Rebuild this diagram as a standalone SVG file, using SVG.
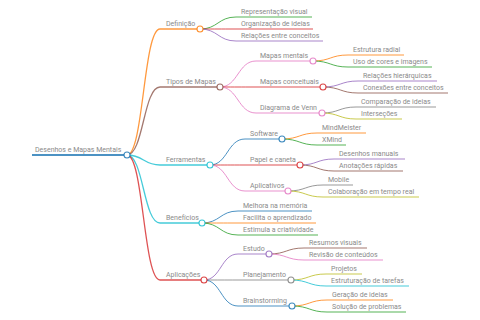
<svg xmlns="http://www.w3.org/2000/svg" width="480" height="320" viewBox="0 0 480 320">
<style>
text{font-family:Roboto,"Liberation Sans",sans-serif;font-size:7px;fill:#8a8a8a}
path,line{fill:none;stroke-opacity:0.8}
circle{fill:#fff;stroke-width:1.1;stroke-opacity:0.85}
.l0{stroke-width:1.8}
.l1{stroke-width:1.3}
.l2{stroke-width:1}
.bl{stroke:#1f77b4}.or{stroke:#ff7f0e}.gr{stroke:#2ca02c}.rd{stroke:#d62728}.pu{stroke:#9467bd}
.br{stroke:#8c564b}.pk{stroke:#e377c2}.gy{stroke:#7f7f7f}.ol{stroke:#bcbd22}.cy{stroke:#17becf}
</style>
<rect width="480" height="320" fill="#fff"/>
<g id="connectors">
<path class="l1 or" d="M127,155 C143.5,155 143.5,29 160,29"/>
<path class="l1 br" d="M127,155 C143.5,155 143.5,87 160,87"/>
<path class="l1 cy" d="M127,155 C143.5,155 143.5,165 160,165"/>
<path class="l1 cy" d="M127,155 C143.5,155 143.5,223 160,223"/>
<path class="l1 rd" d="M127,155 C143.5,155 143.5,280 160,280"/>
<path class="l2 gr" d="M200,29 C218,29 218,17 236,17"/>
<path class="l2 rd" d="M200,29 C218,29 218,29 236,29"/>
<path class="l2 pu" d="M200,29 C218,29 218,41 236,41"/>
<path class="l2 pk" d="M220,87 C238,87 238,61 256,61"/>
<path class="l2 rd" d="M220,87 C238,87 238,87 256,87"/>
<path class="l2 pk" d="M220,87 C238,87 238,113 256,113"/>
<path class="l2 or" d="M313,61 C330.5,61 330.5,55 348,55"/>
<path class="l2 gr" d="M313,61 C330.5,61 330.5,67 348,67"/>
<path class="l2 pu" d="M323,87 C340.5,87 340.5,81 358,81"/>
<path class="l2 br" d="M323,87 C340.5,87 340.5,93 358,93"/>
<path class="l2 gy" d="M322,113 C339,113 339,107 356,107"/>
<path class="l2 ol" d="M322,113 C339,113 339,119 356,119"/>
<path class="l2 bl" d="M210,165 C227.5,165 227.5,139 245,139"/>
<path class="l2 rd" d="M210,165 C227.5,165 227.5,165 245,165"/>
<path class="l2 pk" d="M210,165 C227.5,165 227.5,191 245,191"/>
<path class="l2 or" d="M282,139 C299.5,139 299.5,133 317,133"/>
<path class="l2 gr" d="M282,139 C299.5,139 299.5,145 317,145"/>
<path class="l2 pu" d="M300,165 C317,165 317,159 334,159"/>
<path class="l2 br" d="M300,165 C317,165 317,171 334,171"/>
<path class="l2 gy" d="M288,191 C305.5,191 305.5,185 323,185"/>
<path class="l2 ol" d="M288,191 C305.5,191 305.5,197 323,197"/>
<path class="l2 bl" d="M202,223 C220,223 220,211 238,211"/>
<path class="l2 or" d="M202,223 C220,223 220,223 238,223"/>
<path class="l2 gr" d="M202,223 C220,223 220,235 238,235"/>
<path class="l2 pu" d="M204,280 C221,280 221,254 238,254"/>
<path class="l2 gy" d="M204,280 C221,280 221,280 238,280"/>
<path class="l2 bl" d="M204,280 C221,280 221,306 238,306"/>
<path class="l2 br" d="M269,254 C286.5,254 286.5,248 304,248"/>
<path class="l2 pk" d="M269,254 C286.5,254 286.5,260 304,260"/>
<path class="l2 ol" d="M291,280 C308.5,280 308.5,274 326,274"/>
<path class="l2 cy" d="M291,280 C308.5,280 308.5,286 326,286"/>
<path class="l2 or" d="M292,306 C309.5,306 309.5,300 327,300"/>
<path class="l2 gr" d="M292,306 C309.5,306 309.5,312 327,312"/>
</g>
<g id="root"><line class="l0 bl" x1="32" y1="155" x2="127" y2="155"/><circle class="bl" cx="127" cy="155" r="3"/><text x="35" y="152">Desenhos e Mapas Mentais</text></g>
<g id="definicao"><line class="l1 or" x1="160" y1="29" x2="200" y2="29"/><circle class="or" cx="200" cy="29" r="3"/><text x="166" y="26">Definição</text></g>
<g id="rep-visual"><line class="l2 gr" x1="236" y1="17" x2="312" y2="17"/><text x="241" y="14">Representação visual</text></g>
<g id="org-ideias"><line class="l2 rd" x1="236" y1="29" x2="313" y2="29"/><text x="241" y="26">Organização de ideias</text></g>
<g id="rel-conceitos"><line class="l2 pu" x1="236" y1="41" x2="323" y2="41"/><text x="241" y="38">Relações entre conceitos</text></g>
<g id="tipos"><line class="l1 br" x1="160" y1="87" x2="220" y2="87"/><circle class="br" cx="220" cy="87" r="3"/><text x="166" y="84">Tipos de Mapas</text></g>
<g id="mapas-mentais"><line class="l2 pk" x1="256" y1="61" x2="313" y2="61"/><circle class="pk" cx="313" cy="61" r="3"/><text x="260" y="58">Mapas mentais</text></g>
<g id="estrutura-radial"><line class="l2 or" x1="348" y1="55" x2="404" y2="55"/><text x="353" y="52">Estrutura radial</text></g>
<g id="uso-cores"><line class="l2 gr" x1="348" y1="67" x2="432" y2="67"/><text x="353" y="64">Uso de cores e imagens</text></g>
<g id="mapas-conceituais"><line class="l2 rd" x1="256" y1="87" x2="323" y2="87"/><circle class="rd" cx="323" cy="87" r="3"/><text x="260" y="84">Mapas conceituais</text></g>
<g id="rel-hier"><line class="l2 pu" x1="358" y1="81" x2="437" y2="81"/><text x="363" y="78">Relações hierárquicas</text></g>
<g id="conexoes"><line class="l2 br" x1="358" y1="93" x2="448" y2="93"/><text x="363" y="90">Conexões entre conceitos</text></g>
<g id="venn"><line class="l2 pk" x1="256" y1="113" x2="322" y2="113"/><circle class="pk" cx="322" cy="113" r="3"/><text x="260" y="110">Diagrama de Venn</text></g>
<g id="comparacao"><line class="l2 gy" x1="356" y1="107" x2="436" y2="107"/><text x="361" y="104">Comparação de ideias</text></g>
<g id="intersecoes"><line class="l2 ol" x1="356" y1="119" x2="402" y2="119"/><text x="361" y="116">Interseções</text></g>
<g id="ferramentas"><line class="l1 cy" x1="160" y1="165" x2="210" y2="165"/><circle class="cy" cx="210" cy="165" r="3"/><text x="166" y="162">Ferramentas</text></g>
<g id="software"><line class="l2 bl" x1="245" y1="139" x2="282" y2="139"/><circle class="bl" cx="282" cy="139" r="3"/><text x="250" y="136">Software</text></g>
<g id="mindmeister"><line class="l2 or" x1="317" y1="133" x2="366" y2="133"/><text x="322" y="130">MindMeister</text></g>
<g id="xmind"><line class="l2 gr" x1="317" y1="145" x2="346" y2="145"/><text x="322" y="142">XMind</text></g>
<g id="papel"><line class="l2 rd" x1="245" y1="165" x2="300" y2="165"/><circle class="rd" cx="300" cy="165" r="3"/><text x="250" y="162">Papel e caneta</text></g>
<g id="desenhos-manuais"><line class="l2 pu" x1="334" y1="159" x2="405" y2="159"/><text x="339" y="156">Desenhos manuais</text></g>
<g id="anotacoes"><line class="l2 br" x1="334" y1="171" x2="403" y2="171"/><text x="339" y="168">Anotações rápidas</text></g>
<g id="aplicativos"><line class="l2 pk" x1="245" y1="191" x2="288" y2="191"/><circle class="pk" cx="288" cy="191" r="3"/><text x="250" y="188">Aplicativos</text></g>
<g id="mobile"><line class="l2 gy" x1="323" y1="185" x2="353" y2="185"/><text x="328" y="182">Mobile</text></g>
<g id="colaboracao"><line class="l2 ol" x1="323" y1="197" x2="419" y2="197"/><text x="328" y="194">Colaboração em tempo real</text></g>
<g id="beneficios"><line class="l1 cy" x1="160" y1="223" x2="202" y2="223"/><circle class="cy" cx="202" cy="223" r="3"/><text x="166" y="220">Benefícios</text></g>
<g id="memoria"><line class="l2 bl" x1="238" y1="211" x2="312" y2="211"/><text x="243" y="208">Melhora na memória</text></g>
<g id="aprendizado"><line class="l2 or" x1="238" y1="223" x2="316" y2="223"/><text x="243" y="220">Facilita o aprendizado</text></g>
<g id="criatividade"><line class="l2 gr" x1="238" y1="235" x2="318" y2="235"/><text x="243" y="232">Estimula a criatividade</text></g>
<g id="aplicacoes"><line class="l1 rd" x1="160" y1="280" x2="204" y2="280"/><circle class="rd" cx="204" cy="280" r="3"/><text x="166" y="277">Aplicações</text></g>
<g id="estudo"><line class="l2 pu" x1="238" y1="254" x2="269" y2="254"/><circle class="pu" cx="269" cy="254" r="3"/><text x="243" y="251">Estudo</text></g>
<g id="resumos"><line class="l2 br" x1="304" y1="248" x2="367" y2="248"/><text x="309" y="245">Resumos visuais</text></g>
<g id="revisao"><line class="l2 pk" x1="304" y1="260" x2="383" y2="260"/><text x="309" y="257">Revisão de conteúdos</text></g>
<g id="planejamento"><line class="l2 gy" x1="238" y1="280" x2="291" y2="280"/><circle class="gy" cx="291" cy="280" r="3"/><text x="243" y="277">Planejamento</text></g>
<g id="projetos"><line class="l2 ol" x1="326" y1="274" x2="362" y2="274"/><text x="331" y="271">Projetos</text></g>
<g id="estruturacao"><line class="l2 cy" x1="326" y1="286" x2="409" y2="286"/><text x="331" y="283">Estruturação de tarefas</text></g>
<g id="brainstorming"><line class="l2 bl" x1="238" y1="306" x2="292" y2="306"/><circle class="bl" cx="292" cy="306" r="3"/><text x="243" y="303">Brainstorming</text></g>
<g id="geracao"><line class="l2 or" x1="327" y1="300" x2="393" y2="300"/><text x="332" y="297">Geração de ideias</text></g>
<g id="solucao"><line class="l2 gr" x1="327" y1="312" x2="406" y2="312"/><text x="332" y="309">Solução de problemas</text></g>
</svg>
